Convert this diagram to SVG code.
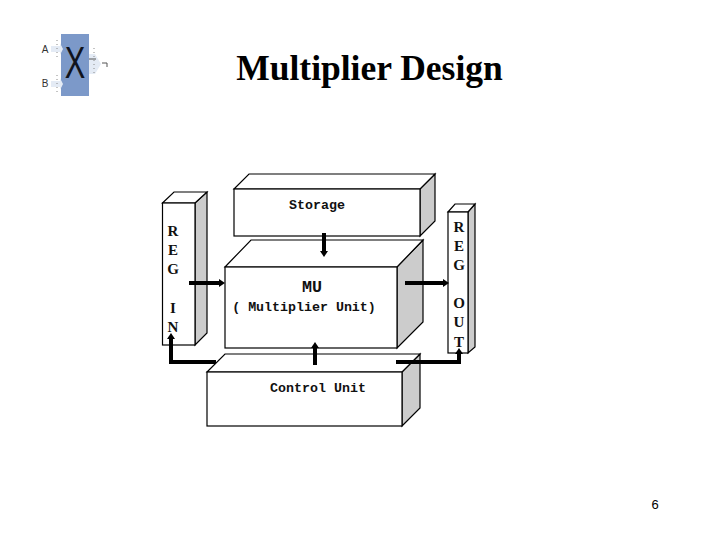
<svg xmlns="http://www.w3.org/2000/svg" width="720" height="540" viewBox="0 0 720 540">
<style>
.f{fill:#fff;stroke:#000;stroke-width:1.2}
.s{fill:#ccc;stroke:#000;stroke-width:1.2}
.m{font-family:"Liberation Mono",monospace;font-size:13.3px;font-weight:bold;fill:#111}
.l{font-family:"Liberation Serif",serif;font-size:15px;font-weight:bold;fill:#111;text-anchor:middle}
.a{fill:none;stroke:#000;stroke-width:4}
.h{fill:#000}
.i{font-family:"Liberation Sans",sans-serif;font-size:10px;fill:#333;text-anchor:middle}
.g{fill:#e4ebf5;stroke:none}
.d{fill:none;stroke:#8a8a8a;stroke-width:1;stroke-dasharray:1 3}
</style>
<rect width="720" height="540" fill="#fff"/>
<g id="icon">
<rect x="61" y="34" width="28" height="62" fill="#7c99c9"/>
<path class="g" d="M51 46h9v-3l3 6-3 6v-3h-9z"/>
<path class="g" d="M51 81h9v-3l3 6-3 6v-3h-9z"/>
<path class="g" d="M89 54h6l6 10-6 10h-6z"/>
<path class="d" d="M57 40v18M57 75v18M94 48v28"/>
<path d="M89 59h7M102 63h5v4" stroke="#555" stroke-width="1" fill="none"/>
<text transform="translate(75 78) scale(.7 1)" text-anchor="middle" font-family="Liberation Sans, sans-serif" font-size="44" fill="#10131c">X</text>
<text class="i" x="45" y="53">A</text>
<text class="i" x="45" y="87">B</text>
</g>
<text id="title" x="369.500" y="80" text-anchor="middle" font-family="Liberation Serif, serif" font-size="35.500" font-weight="bold" fill="#000">Multiplier Design</text>
<g id="reg-in">
<path class="s" d="M195 203L207 192V333L195 345z"/>
<path class="f" d="M162.500 203L174 192H207L195 203z"/>
<rect class="f" x="162.500" y="203" width="32.500" height="142"/>
<text class="l" x="173" y="236">R</text>
<text class="l" x="173" y="255">E</text>
<text class="l" x="173" y="274">G</text>
<text class="l" x="173" y="313">I</text>
<text class="l" x="173" y="332">N</text>
</g>
<g id="storage">
<path class="s" d="M420 189L435 174V221L420 236z"/>
<path class="f" d="M234 189L249 174H435L420 189z"/>
<rect class="f" x="234" y="189" width="186" height="47"/>
<text class="m" x="317" y="209" text-anchor="middle">Storage</text>
</g>
<g id="mu">
<path class="s" d="M397 267L423 240V322L397 348z"/>
<path class="f" d="M225 267L251 240H423L397 267z"/>
<rect class="f" x="225" y="267" width="172" height="81"/>
<text class="m" x="312" y="292" text-anchor="middle" style="font-size:16.700px">MU</text>
<text class="m" x="304" y="311" text-anchor="middle">( Multiplier Unit)</text>
</g>
<g id="control">
<path class="s" d="M402 372L420 354V408L402 426z"/>
<path class="f" d="M207 372L225 354H420L402 372z"/>
<rect class="f" x="207" y="372" width="195" height="54"/>
<text class="m" x="318" y="392" text-anchor="middle">Control Unit</text>
</g>
<g id="reg-out">
<path class="s" d="M468 212L475 204V347L468 353z"/>
<path class="f" d="M448 212L455 204H475L468 212z"/>
<rect class="f" x="448" y="212" width="20" height="141"/>
<text class="l" x="459" y="232">R</text>
<text class="l" x="459" y="251">E</text>
<text class="l" x="459" y="270">G</text>
<text class="l" x="459" y="308">O</text>
<text class="l" x="459" y="327">U</text>
<text class="l" x="459" y="347">T</text>
</g>
<g id="connectors">
<path class="a" d="M189 283H220"/><path class="h" d="M219 279L225 283L219 287z"/>
<path class="a" d="M405 283H444"/><path class="h" d="M443 279L449 283L443 287z"/>
<path class="a" d="M324 233V252"/><path class="h" d="M320 251L324 257L328 251z"/>
<path class="a" d="M315 365V347"/><path class="h" d="M311 348L315 342L319 348z"/>
<path class="a" d="M216 362H171V338"/><path class="h" d="M167 339L171 333L175 339z"/>
<path class="a" d="M396 362H459V353"/><path class="h" d="M455 354L459 348L463 354z"/>
</g>
<text id="page" x="655" y="509" text-anchor="middle" font-family="Liberation Sans, sans-serif" font-size="13" fill="#000">6</text>
</svg>
